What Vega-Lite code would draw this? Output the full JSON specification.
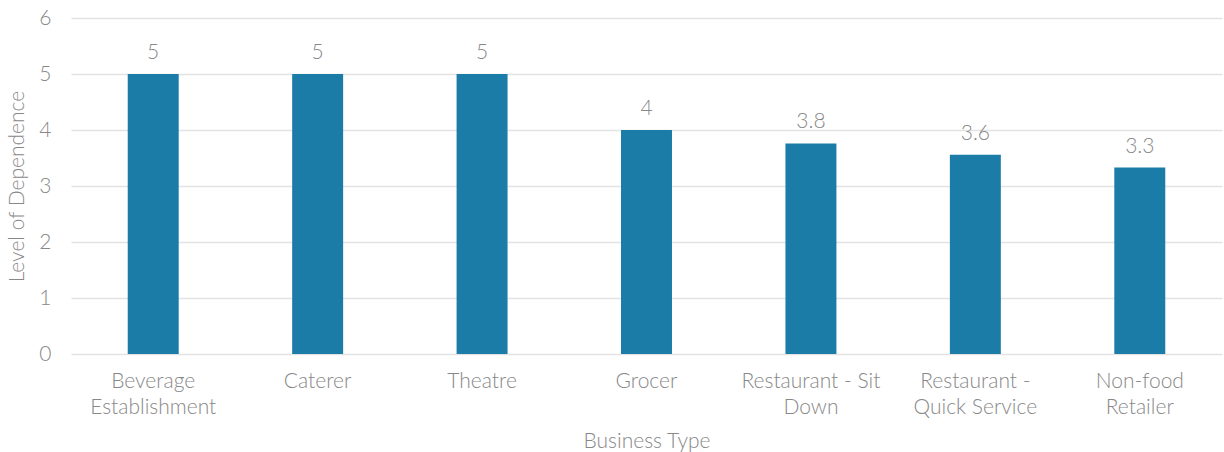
{
  "$schema": "https://vega.github.io/schema/vega-lite/v6.json",
  "width": 1151,
  "height": 336,
  "autosize": "none",
  "padding": {"left": 71, "top": 18, "right": 2, "bottom": 98},
  "background": "white",
  "config": {
    "view": {"stroke": null},
    "font": "Lato",
    "axis": {"labelFont": "Lato", "titleFont": "Lato", "labelColor": "#888888", "titleColor": "#888888", "titleFontWeight": 300, "labelFontWeight": 300, "labelFontSize": 21, "titleFontSize": 21}
  },
  "data": {"values": [
    {"type": "Beverage Establishment", "value": 5},
    {"type": "Caterer", "value": 5},
    {"type": "Theatre", "value": 5},
    {"type": "Grocer", "value": 4},
    {"type": "Restaurant - Sit Down", "value": 3.76},
    {"type": "Restaurant - Quick Service", "value": 3.56},
    {"type": "Non-food Retailer", "value": 3.33}
  ]},
  "encoding": {
    "x": {
      "field": "type", "type": "nominal", "sort": null,
      "scale": {"paddingInner": 0.69, "paddingOuter": 0.345},
      "axis": {
        "title": "Business  Type", "labelAngle": 0, "domain": false, "ticks": false,
        "labelPadding": 16, "labelLineHeight": 26, "titlePadding": 13,
        "labelExpr": "datum.value == 'Beverage Establishment' ? ['Beverage', 'Establishment'] : datum.value == 'Restaurant - Sit Down' ? ['Restaurant - Sit', 'Down'] : datum.value == 'Restaurant - Quick Service' ? ['Restaurant -', 'Quick Service'] : datum.value == 'Non-food Retailer' ? ['Non-food', 'Retailer'] : datum.value"
      }
    },
    "y": {
      "field": "value", "type": "quantitative",
      "scale": {"domain": [0, 6]},
      "axis": {
        "title": "Level of Dependence", "values": [0, 1, 2, 3, 4, 5, 6],
        "labelOverlap": false, "labelFlush": false,
        "domain": false, "ticks": false, "labelPadding": 20, "titlePadding": 11,
        "gridColor": "#e3e3e3", "gridWidth": 1.5
      }
    }
  },
  "layer": [
    {"mark": {"type": "bar", "color": "#1b7ca8"}},
    {
      "mark": {"type": "text", "baseline": "bottom", "dy": -11, "fontSize": 21, "fontWeight": 300, "color": "#888888", "font": "Lato"},
      "encoding": {"text": {"field": "value", "type": "quantitative", "format": ".2~r"}}
    }
  ]
}
